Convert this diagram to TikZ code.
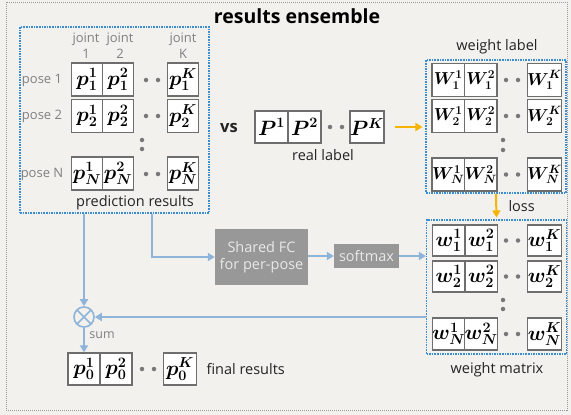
\documentclass[tikz,border=0pt]{standalone}
\usepackage[no-math]{fontspec}
\setmainfont{Open Sans}
\usepackage{bm}
\usetikzlibrary{arrows.meta}
\definecolor{bgc}{RGB}{243,241,238}
\definecolor{cellline}{RGB}{110,110,110}
\definecolor{groupblue}{RGB}{60,140,210}
\definecolor{flowblue}{RGB}{143,180,218}
\definecolor{lossorange}{RGB}{245,180,0}
\definecolor{fcgray}{RGB}{152,152,152}
\definecolor{fctext}{RGB}{232,232,232}
\definecolor{labgray}{RGB}{128,128,128}
\definecolor{dotgray}{RGB}{120,120,120}
\definecolor{darktext}{RGB}{35,35,35}
\tikzset{
  cell/.style={draw=cellline, line width=1.3pt, fill=white, minimum width=31pt,
    minimum height=33pt, inner sep=0pt, font=\fontsize{19.5}{21}\selectfont},
  wcell/.style={cell, minimum width=32.5pt},
  bigwcell/.style={wcell, font=\fontsize{16.5}{18}\selectfont},
  groupbox/.style={draw=groupblue, line width=1.1pt, dash pattern=on 1.6pt off 1pt,
    inner sep=0pt},
  flow/.style={draw=flowblue, line width=2pt, -{Triangle[length=7pt,width=8pt]}},
  lossflow/.style={draw=lossorange, line width=2pt, -{Triangle[length=7pt,width=8pt]}},
  procbox/.style={fill=fcgray, text=fctext, inner sep=0pt, align=center,
    font=\fontsize{14.5}{17}\selectfont},
  grouplabel/.style={text=darktext, font=\fontsize{14.5}{17}\selectfont},
  smalllabel/.style={text=labgray, font=\fontsize{13}{14}\selectfont, align=center},
  jointlabel/.style={text=labgray, font=\fontsize{13}{15.5}\selectfont, align=center, inner sep=0pt},
  dot/.style={circle, fill=dotgray, inner sep=0pt, minimum size=4.5pt}
}
\begin{document}
\begin{tikzpicture}[x=1pt,y=-1pt]
\useasboundingbox (0,0) rectangle (571,415);
\fill[bgc] (0,0) rectangle (571,415);
\draw[draw=labgray!80, line width=0.9pt, dash pattern=on 1pt off 1pt] (6,2) rectangle (567,410);

% title
\node[font=\bfseries\fontsize{19.5}{22}\selectfont, text=black] (title) at (297,16) {results ensemble};

% ---- prediction results ----
\node[groupbox, minimum width=189pt, minimum height=186pt] (pred) at (114.5,120) {};
\node[jointlabel] (j1) at (86,45.5) {joint\\1};
\node[jointlabel] (j2) at (120,45.5) {joint\\2};
\node[jointlabel] (jK) at (183,45.5) {joint\\K};
\node[smalllabel] (pose1) at (42,80) {pose 1};
\node[smalllabel] (pose2) at (42,116) {pose 2};
\node[smalllabel] (poseN) at (42,174) {pose N};

\node[cell] (p11) at (87,79.5) {$\bm{p_1^1}$};
\node[cell] (p12) at (118,79.5) {$\bm{p_1^2}$};
\node[cell] (p1K) at (183,79.5) {$\bm{p_1^K}$};
\node[dot] (d1a) at (146,80) {}; \node[dot] (d1b) at (158,80) {};
\node[cell] (p21) at (87,116) {$\bm{p_2^1}$};
\node[cell] (p22) at (118,116) {$\bm{p_2^2}$};
\node[cell] (p2K) at (183,116) {$\bm{p_2^K}$};
\node[dot] (d2a) at (146,116) {}; \node[dot] (d2b) at (158,116) {};
\node[dot] (v1) at (142,140) {}; \node[dot] (v2) at (142,149) {};
\node[cell] (pN1) at (87,173.5) {$\bm{p_N^1}$};
\node[cell] (pN2) at (118,173.5) {$\bm{p_N^2}$};
\node[cell] (pNK) at (183,173.5) {$\bm{p_N^K}$};
\node[dot] (dNa) at (146,174) {}; \node[dot] (dNb) at (158,174) {};
\node[grouplabel] (predlab) at (135,203) {prediction results};

% ---- real label ----
\node[font=\bfseries\fontsize{16.5}{18}\selectfont, text=darktext] (vs) at (229,128) {vs};
\node[cell, minimum width=33pt, minimum height=32pt] (P1) at (271.5,127) {$\bm{P^1}$};
\node[cell, minimum width=33pt, minimum height=32pt] (P2) at (304.5,127) {$\bm{P^2}$};
\node[cell, minimum width=33pt, minimum height=32pt] (PK) at (367,127) {$\bm{P^K}$};
\node[dot] (dPa) at (330,127) {}; \node[dot] (dPb) at (342,127) {};
\node[grouplabel] (reallab) at (323,155) {real label};

% ---- weight label ----
\node[groupbox, minimum width=140pt, minimum height=133pt] (wlab) at (496,126.5) {};
\node[grouplabel] (wlabtxt) at (497,47) {weight label};
\node[bigwcell] (W11) at (448.25,80) {$\bm{W_1^1}$};
\node[bigwcell] (W12) at (480.75,80) {$\bm{W_1^2}$};
\node[bigwcell] (W1K) at (544.5,80) {$\bm{W_1^K}$};
\node[dot] (dW1a) at (506,80) {}; \node[dot] (dW1b) at (518,80) {};
\node[bigwcell] (W21) at (448.25,116) {$\bm{W_2^1}$};
\node[bigwcell] (W22) at (480.75,116) {$\bm{W_2^2}$};
\node[bigwcell] (W2K) at (544.5,116) {$\bm{W_2^K}$};
\node[dot] (dW2a) at (506,116) {}; \node[dot] (dW2b) at (518,116) {};
\node[dot] (vW1) at (503,140) {}; \node[dot] (vW2) at (503,150) {};
\node[bigwcell] (WN1) at (448.25,174.5) {$\bm{W_N^1}$};
\node[bigwcell] (WN2) at (480.75,174.5) {$\bm{W_N^2}$};
\node[bigwcell] (WNK) at (544.5,174.5) {$\bm{W_N^K}$};
\node[dot] (dWNa) at (506,174.5) {}; \node[dot] (dWNb) at (518,174.5) {};

% ---- weight matrix ----
\node[groupbox, minimum width=140pt, minimum height=134pt] (wmat) at (496.5,287) {};
\node[grouplabel] (wmattxt) at (497,370) {weight matrix};
\node[wcell, minimum height=31pt] (w11) at (448.75,240.5) {$\bm{w_1^1}$};
\node[wcell, minimum height=31pt] (w12) at (481.25,240.5) {$\bm{w_1^2}$};
\node[wcell, minimum height=31pt] (w1K) at (544.5,240.5) {$\bm{w_1^K}$};
\node[dot] (dw1a) at (506,240.5) {}; \node[dot] (dw1b) at (518,240.5) {};
\node[wcell, minimum height=31pt] (w21) at (448.75,276.5) {$\bm{w_2^1}$};
\node[wcell, minimum height=31pt] (w22) at (481.25,276.5) {$\bm{w_2^2}$};
\node[wcell, minimum height=31pt] (w2K) at (544.5,276.5) {$\bm{w_2^K}$};
\node[dot] (dw2a) at (506,276.5) {}; \node[dot] (dw2b) at (518,276.5) {};
\node[dot] (vw1) at (503,300) {}; \node[dot] (vw2) at (503,309) {};
\node[wcell, minimum height=32pt] (wN1) at (448.75,334) {$\bm{w_N^1}$};
\node[wcell, minimum height=32pt] (wN2) at (481.25,334) {$\bm{w_N^2}$};
\node[wcell, minimum height=32pt] (wNK) at (544.5,334) {$\bm{w_N^K}$};
\node[dot] (dwNa) at (506,334) {}; \node[dot] (dwNb) at (518,334) {};

% ---- processing blocks ----
\node[procbox, minimum width=93pt, minimum height=56pt] (fc) at (261.5,257) {Shared FC\\for per-pose};
\node[procbox, minimum width=65pt, minimum height=24pt] (sm) at (366.5,256) {softmax};

% ---- combination and final results ----
\node[circle, draw=flowblue, line width=1.6pt, minimum size=20pt, inner sep=0pt] (ot) at (84,317) {};
\draw[flowblue, line width=1.6pt] ([shift={(-7,-7)}]ot.center) -- ([shift={(7,7)}]ot.center)
  ([shift={(-7,7)}]ot.center) -- ([shift={(7,-7)}]ot.center);
\node[smalllabel, font=\fontsize{12.5}{14}\selectfont] (sumlab) at (102,335) {sum};
\node[cell, minimum width=32pt, minimum height=32pt] (f1) at (84,369) {$\bm{p_0^1}$};
\node[cell, minimum width=32pt, minimum height=32pt] (f2) at (116,369) {$\bm{p_0^2}$};
\node[cell, minimum width=33pt, minimum height=32pt] (fK) at (180,369) {$\bm{p_0^K}$};
\node[dot] (dfa) at (142,369) {}; \node[dot] (dfb) at (154,369) {};
\node[grouplabel, anchor=west] (finallab) at (203,369) {final results};

% ---- connectors ----
\draw[lossflow, shorten <=10pt, shorten >=3pt] (PK.east) -- (wlab.west |- PK.east);
\draw[lossflow, shorten >=2pt] (wlab.south) -- (wmat.north);
\node[grouplabel, anchor=west] (losslab) at (505,206) {loss};
\draw[flow] ([xshift=37.5pt]pred.south) |- (fc.west);
\draw[flow] (fc.east |- sm.west) -- (sm.west);
\draw[flow] (sm.east) -- (wmat.west |- sm.east);
\draw[flow] (pred.south -| ot.north) -- (ot.north);
\draw[flow] (wmat.west |- ot.east) -- (ot.east);
\draw[flow] (ot.south) -- (f1.north);
\end{tikzpicture}
\end{document}
